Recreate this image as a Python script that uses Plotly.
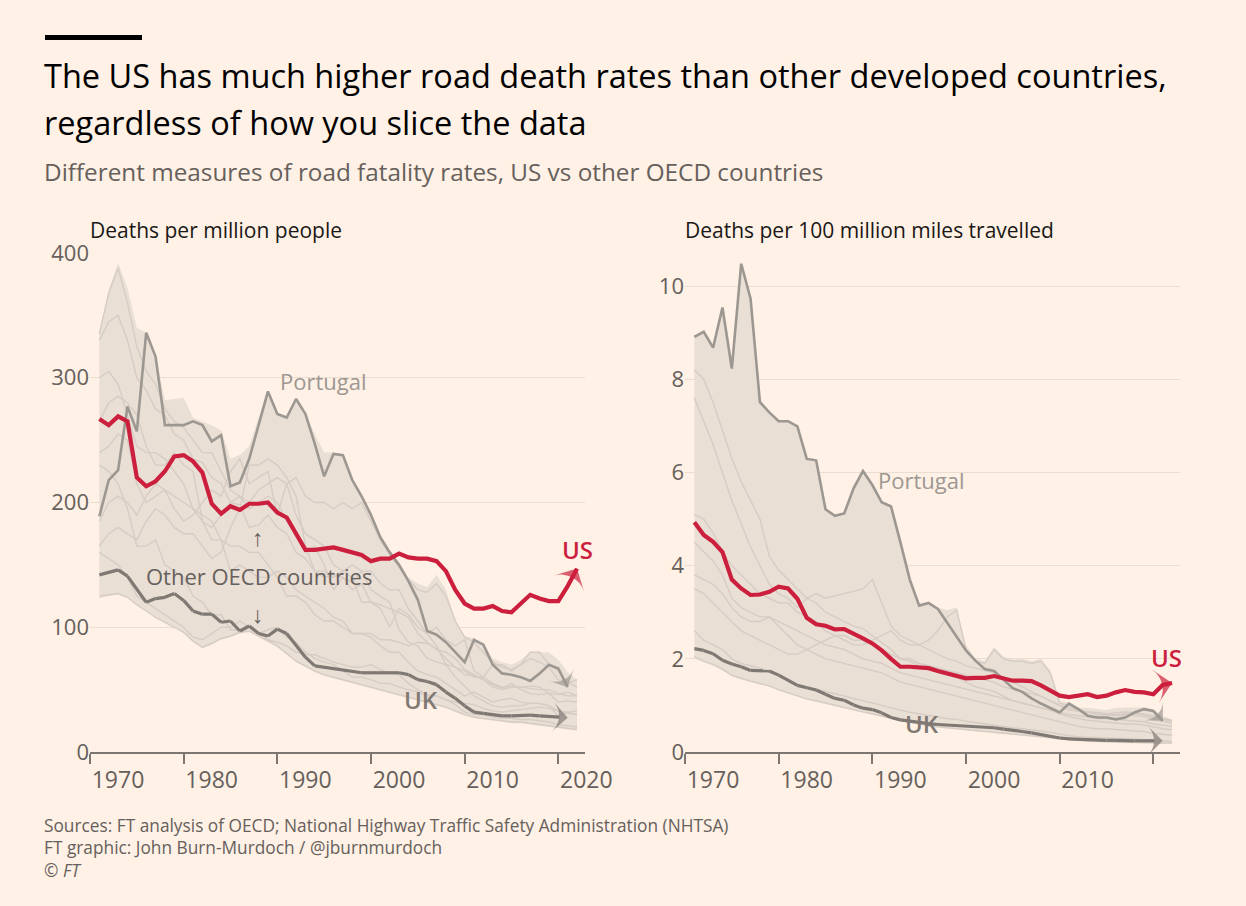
import plotly.graph_objects as go

# ---------------- data ----------------
years = list(range(1971, 2023))          # 52 positions (1971..2022)

# Left panel: deaths per million people
us_pop = [267, 262, 269, 265, 220, 213, 217, 225, 237, 238, 233, 224, 199, 191, 197, 194, 199, 199, 200, 192,
          188, 175, 162, 162, 163, 164, 162, 160, 158, 153, 155, 155, 159, 156, 155, 155, 153, 145, 130, 119,
          115, 115, 117, 113, 112, 119, 126, 123, 121, 121, 133, 147]
uk_pop = [142, 144, 146, 141, 131, 120, 123, 124, 127, 121.5, 113, 110.5, 110.5, 104, 105, 97, 101, 95, 93, 98.5,
          95, 86, 76, 69, 68, 67, 66, 64.5, 63.5, 63.5, 63.5, 63.5, 63.5, 62, 58, 56.5, 54, 48, 43, 37,
          32, 31, 30, 29, 29, 29.5, 29.5, 29, 28.5, 28, 27.5]
portugal_pop = [189, 218, 226, 277, 257, 336, 317, 262, 262, 262, 265, 262, 249, 254, 213, 216, 235, 262, 289, 271,
                268, 283, 271, 247, 221, 239, 238, 218, 205, 190, 172, 160, 150, 137, 122, 97, 94, 88, 80, 72,
                90, 86, 70, 63, 62, 60, 57, 63, 70, 67, 52]
band_hi_pop = [338, 370, 392, 372, 340, 336, 318, 282, 283, 284, 268, 265, 262, 258, 235, 238, 245, 268, 289, 272,
               270, 284, 272, 255, 240, 240, 239, 220, 207, 192, 175, 162, 152, 140, 135, 132, 142, 130, 106, 93,
               91, 87, 75, 72, 70, 74, 80, 80, 80, 74, 64, 58]
band_lo_pop = [123, 125, 126, 124, 118, 113, 107, 104, 100, 95, 88, 83, 86, 90, 92, 95, 96, 92, 88, 84,
               78, 72, 68, 64, 61, 59, 57, 55, 53, 51, 49, 47, 45, 43, 41, 39, 37, 35, 32, 29,
               27, 26, 25, 24, 23, 23, 22, 21, 20, 19, 18, 17]
others_pop = [
    [330, 345, 350, 330, 300, 290, 275, 270, 255, 250, 235, 232, 220, 215, 200, 198, 180, 182, 190, 180,
     175, 160, 155, 145, 140, 142, 140, 136, 145, 130, 125, 120, 98, 88, 85, 75, 72, 70, 68, 62,
     61, 58, 52, 50, 52, 52, 51, 50, 50, 47, 45, 45],
    [335, 368, 388, 360, 325, 305, 295, 275, 265, 260, 250, 240, 240, 225, 210, 205, 195, 200, 205, 200,
     185, 175, 160, 165, 150, 130, 140, 130, 135, 120, 118, 115, 112, 108, 95, 88, 82, 80, 75, 66,
     62, 58, 54, 51, 55, 50, 47, 46, 47, 40, 41, 40],
    [300, 305, 295, 270, 245, 240, 240, 235, 225, 215, 195, 190, 185, 170, 145, 150, 145, 140, 140, 145,
     140, 130, 125, 120, 115, 108, 105, 95, 95, 92, 85, 80, 80, 72, 65, 62, 60, 55, 50, 45,
     48, 44, 40, 42, 43, 40, 39, 39, 37, 33, 31, 30],
    [165, 175, 180, 175, 170, 185, 195, 190, 180, 175, 175, 165, 155, 160, 180, 195, 230, 230, 235, 230,
     220, 205, 165, 145, 145, 140, 145, 150, 145, 145, 135, 130, 130, 115, 105, 95, 85, 70, 60, 53,
     45, 41, 37, 36, 37, 37, 39, 39, 37, 29, 32, 33],
    [240, 245, 255, 250, 215, 200, 205, 210, 195, 185, 190, 200, 210, 205, 225, 235, 215, 220, 225, 190,
     215, 190, 175, 170, 165, 150, 145, 140, 120, 120, 115, 100, 115, 110, 100, 95, 100, 90, 85, 90,
     65, 60, 70, 70, 65, 70, 80, 80, 70, 65, 55, 58],
    [230, 225, 215, 195, 165, 165, 170, 150, 145, 140, 125, 120, 110, 110, 98, 98, 100, 95, 90, 88,
     85, 80, 78, 78, 75, 72, 70, 68, 68, 70, 66, 63, 62, 55, 50, 46, 45, 42, 40, 39,
     38, 35, 33, 32, 33, 34, 35, 36, 35, 33, 32, 30],
    [265, 280, 285, 280, 270, 245, 230, 230, 240, 230, 225, 185, 170, 170, 165, 165, 160, 160, 150, 140,
     125, 125, 120, 110, 105, 105, 100, 95, 95, 95, 90, 90, 88, 85, 88, 87, 83, 75, 68, 65,
     60, 60, 55, 52, 53, 52, 53, 52, 47, 46, 48, 45],
    [160, 155, 150, 140, 125, 120, 115, 110, 105, 100, 92, 90, 95, 100, 100, 105, 100, 95, 98, 100,
     92, 88, 80, 75, 72, 70, 65, 60, 60, 58, 55, 55, 52, 50, 48, 45, 45, 42, 38, 32,
     30, 30, 28, 27, 27, 26, 26, 25, 24, 22, 21, 20],
    [185, 200, 205, 200, 190, 205, 215, 210, 205, 200, 195, 185, 180, 190, 200, 205, 200, 210, 215, 220,
     215, 220, 205, 200, 200, 195, 200, 195, 200, 185, 170, 158, 148, 138, 130, 128, 135, 125, 105, 92,
     88, 80, 72, 68, 66, 70, 75, 72, 68, 58, 56, 52],
    [125, 126, 127, 124, 118, 113, 108, 104, 100, 96, 89, 84, 87, 91, 93, 96, 97, 93, 89, 85,
     79, 73, 69, 65, 62, 60, 58, 56, 54, 52, 50, 48, 46, 44, 42, 40, 38, 36, 33, 30,
     28, 27, 26, 25, 24, 24, 23, 22, 21, 20, 19, 18],
]

# Right panel: deaths per 100 million miles travelled
us_miles = [4.93, 4.66, 4.51, 4.29, 3.70, 3.51, 3.37, 3.38, 3.44, 3.55, 3.51, 3.29, 2.88, 2.74, 2.71, 2.63, 2.64,
            2.55, 2.44, 2.33, 2.18, 2.00, 1.83, 1.83, 1.81, 1.80, 1.74, 1.68, 1.63, 1.58, 1.59, 1.59, 1.63, 1.58,
            1.53, 1.53, 1.52, 1.43, 1.33, 1.21, 1.18, 1.21, 1.24, 1.18, 1.21, 1.28, 1.33, 1.29, 1.28, 1.24, 1.44, 1.48]
uk_miles = [2.22, 2.18, 2.11, 1.97, 1.89, 1.83, 1.75, 1.74, 1.74, 1.65, 1.53, 1.43, 1.38, 1.33, 1.24, 1.15, 1.11,
            1.01, 0.94, 0.91, 0.84, 0.74, 0.69, 0.66, 0.63, 0.61, 0.59, 0.58, 0.56, 0.55, 0.54, 0.53, 0.52, 0.49,
            0.47, 0.44, 0.41, 0.37, 0.33, 0.30, 0.28, 0.27, 0.26, 0.26, 0.25, 0.25, 0.24, 0.24, 0.24, 0.24, 0.24]
portugal_miles = [8.91, 9.02, 8.68, 9.54, 8.23, 10.48, 9.73, 7.51, 7.29, 7.10, 7.10, 6.99, 6.29, 6.26, 5.21, 5.07,
                  5.12, 5.66, 6.03, 5.73, 5.36, 5.27, 4.5, 3.7, 3.14, 3.2, 3.07, 2.77, 2.48, 2.18, 1.96, 1.78, 1.74,
                  1.55, 1.37, 1.29, 1.15, 1.04, 0.95, 0.85, 1.04, 0.92, 0.78, 0.74, 0.74, 0.70, 0.74, 0.85, 0.92,
                  0.88, 0.67]
band_hi_miles = [8.95, 9.05, 8.7, 9.55, 8.25, 10.5, 9.75, 7.55, 7.3, 7.12, 7.12, 7.0, 6.3, 6.28, 5.23, 5.1, 5.15,
                 5.7, 6.05, 5.75, 5.38, 5.3, 4.52, 3.72, 3.2, 3.22, 3.1, 3.05, 3.1, 2.3, 2.0, 1.95, 2.25, 2.05,
                 1.98, 2.0, 1.95, 2.0, 1.75, 1.1, 1.06, 0.95, 0.95, 0.92, 0.9, 0.95, 0.95, 0.96, 0.96, 0.92,
                 0.78, 0.7]
band_lo_miles = [2.0, 1.92, 1.85, 1.75, 1.62, 1.55, 1.5, 1.45, 1.4, 1.32, 1.25, 1.18, 1.12, 1.08, 1.03, 0.98,
                 0.93, 0.88, 0.84, 0.8, 0.75, 0.7, 0.66, 0.62, 0.58, 0.55, 0.52, 0.5, 0.48, 0.46, 0.44, 0.42,
                 0.4, 0.38, 0.36, 0.34, 0.32, 0.3, 0.28, 0.26, 0.24, 0.23, 0.22, 0.21, 0.2, 0.2, 0.19, 0.19,
                 0.18, 0.18, 0.17, 0.17]
others_miles = [
    [8.2, 8.0, 7.5, 6.9, 6.3, 5.8, 5.4, 5.0, 4.2, 3.9, 3.7, 3.5, 3.3, 3.2, 3.0, 2.9, 2.8, 2.7, 2.65, 2.5,
     2.35, 2.2, 2.0, 1.95, 1.85, 1.8, 1.7, 1.65, 1.6, 1.5, 1.4, 1.35, 1.3, 1.2, 1.1, 1.05, 1.0, 0.95, 0.9, 0.85,
     0.8, 0.78, 0.75, 0.72, 0.72, 0.7, 0.68, 0.66, 0.65, 0.6, 0.58, 0.55],
    [7.6, 7.1, 6.6, 6.0, 5.4, 4.9, 4.4, 4.0, 3.6, 3.4, 3.3, 3.1, 3.3, 3.4, 3.3, 3.35, 3.4, 3.45, 3.5, 3.7,
     3.2, 2.7, 2.5, 2.4, 2.3, 2.2, 2.1, 2.0, 1.95, 1.85, 1.8, 1.75, 1.7, 1.6, 1.5, 1.4, 1.3, 1.2, 1.1, 1.0,
     0.9, 0.88, 0.86, 0.84, 0.82, 0.84, 0.86, 0.85, 0.82, 0.78, 0.72, 0.68],
    [5.1, 5.0, 4.7, 4.3, 4.0, 3.8, 3.6, 3.4, 3.3, 3.2, 3.2, 3.0, 2.9, 2.8, 2.6, 2.5, 2.5, 2.4, 2.4, 2.3,
     2.2, 2.1, 2.0, 2.0, 1.9, 1.85, 1.8, 1.75, 1.7, 1.65, 1.6, 1.55, 1.5, 1.4, 1.35, 1.3, 1.25, 1.2, 1.1, 1.0,
     0.95, 0.9, 0.85, 0.85, 0.8, 0.8, 0.82, 0.78, 0.76, 0.7, 0.66, 0.62],
    [4.5, 4.3, 4.1, 3.8, 3.3, 3.1, 3.0, 2.9, 2.9, 2.8, 2.7, 2.6, 2.5, 2.4, 2.3, 2.25, 2.2, 2.1, 2.0, 1.95,
     1.9, 1.8, 1.7, 1.65, 1.6, 1.55, 1.5, 1.45, 1.4, 1.35, 1.3, 1.25, 1.2, 1.15, 1.1, 1.05, 1.0, 0.95, 0.9, 0.82,
     0.76, 0.72, 0.68, 0.66, 0.64, 0.62, 0.6, 0.6, 0.58, 0.54, 0.5, 0.48],
    [3.8, 3.7, 3.6, 3.4, 3.1, 2.9, 2.8, 2.8, 2.9, 2.7, 2.5, 2.3, 2.2, 2.1, 2.0, 1.95, 1.9, 1.85, 1.8, 1.75,
     1.7, 1.6, 1.5, 1.45, 1.4, 1.35, 1.3, 1.25, 1.2, 1.15, 1.1, 1.05, 1.0, 0.95, 0.9, 0.85, 0.8, 0.75, 0.7, 0.65,
     0.6, 0.55, 0.52, 0.5, 0.5, 0.48, 0.46, 0.45, 0.44, 0.4, 0.38, 0.36],
    [3.5, 3.4, 3.2, 3.0, 2.8, 2.6, 2.5, 2.4, 2.3, 2.2, 2.1, 2.1, 2.2, 2.3, 2.4, 2.5, 2.4, 2.3, 2.3, 2.4,
     2.5, 2.6, 2.4, 2.3, 2.3, 2.4, 2.6, 2.9, 3.05, 2.2, 1.95, 1.9, 2.2, 2.0, 1.95, 1.95, 1.9, 1.95, 1.7, 1.05,
     1.0, 0.9, 0.85, 0.8, 0.8, 0.78, 0.8, 0.82, 0.8, 0.74, 0.7, 0.66],
    [2.6, 2.4, 2.3, 2.2, 2.0, 1.9, 1.85, 1.8, 1.75, 1.65, 1.55, 1.45, 1.4, 1.35, 1.3, 1.25, 1.2, 1.15, 1.1, 1.05,
     1.0, 0.95, 0.9, 0.85, 0.82, 0.78, 0.75, 0.72, 0.7, 0.66, 0.63, 0.6, 0.58, 0.55, 0.52, 0.5, 0.48, 0.45, 0.42,
     0.38, 0.35, 0.33, 0.32, 0.3, 0.3, 0.29, 0.29, 0.28, 0.27, 0.25, 0.24, 0.22],
    [2.05, 1.95, 1.88, 1.78, 1.65, 1.58, 1.52, 1.47, 1.42, 1.34, 1.27, 1.2, 1.14, 1.1, 1.05, 1.0, 0.95, 0.9, 0.86,
     0.82, 0.77, 0.72, 0.68, 0.64, 0.6, 0.57, 0.54, 0.52, 0.5, 0.48, 0.46, 0.44, 0.42, 0.4, 0.38, 0.36, 0.34,
     0.32, 0.3, 0.28, 0.26, 0.25, 0.24, 0.23, 0.22, 0.22, 0.21, 0.21, 0.2, 0.2, 0.19, 0.19],
]

x_ticks = [1970, 1980, 1990, 2000, 2010, 2020]
x_ticktext_left = ["1970", "1980", "1990", "2000", "2010", "2020"]
x_ticktext_right = ["1970", "1980", "1990", "2000", "2010", ""]
y_ticks_left = [0, 100, 200, 300, 400]
y_ticks_right = [0, 2, 4, 6, 8, 10]

# ---------------- styles ----------------
BG = "#FFF1E5"
BAND = "#eadfd5"
OTHER = "#d6ccc4"
PORT = "#9d9792"
UKC = "#7f7873"
USC = "#cc1f3d"
GRID = "#eaddd1"
AXIS = "#7d7670"
TXT = "#66605c"
FONT = "Open Sans"

# plot area in pixels: left 90, right 1180, top 253, bottom 752
W, H = 1246, 906
L, R, T, B = 90, 66, 253, 154
PW, PH = W - L - R, H - T - B


def px(xp):
    return (xp - L) / PW


def py(yp):
    return (H - B - yp) / PH


fig = go.Figure()


def add_panel(xa, ya, lo, hi, others, port, uk, us):
    fig.add_trace(go.Scatter(x=years, y=lo, mode="lines", line=dict(width=0, color=BAND),
                             xaxis=xa, yaxis=ya, hoverinfo="skip", showlegend=False))
    fig.add_trace(go.Scatter(x=years, y=hi, mode="lines", line=dict(width=0, color=BAND),
                             fill="tonexty", fillcolor=BAND,
                             xaxis=xa, yaxis=ya, hoverinfo="skip", showlegend=False))
    for o in others:
        fig.add_trace(go.Scatter(x=years, y=o, mode="lines", line=dict(width=1.4, color=OTHER),
                                 xaxis=xa, yaxis=ya, hoverinfo="skip", showlegend=False))

    def arrow_line(xs, ys, color, width, msize):
        n = len(ys)
        fig.add_trace(go.Scatter(
            x=xs[:n], y=ys, mode="lines+markers",
            line=dict(width=width, color=color),
            marker=dict(symbol="arrow-wide", size=[0] * (n - 1) + [msize], angleref="previous",
                        color=color, line=dict(width=0)),
            xaxis=xa, yaxis=ya, hoverinfo="skip", showlegend=False))

    arrow_line(years, port, PORT, 2.6, 20)
    arrow_line(years, uk, UKC, 3.2, 21)
    arrow_line(years, us, USC, 4.2, 24)


add_panel("x", "y", band_lo_pop, band_hi_pop, others_pop, portugal_pop, uk_pop, us_pop)
add_panel("x2", "y2", band_lo_miles, band_hi_miles, others_miles, portugal_miles, uk_miles, us_miles)

xcommon = dict(range=[1970, 2022.85], tickvals=x_ticks, ticks="outside", ticklen=10, tickwidth=1.5,
               tickcolor=AXIS, showline=True, linecolor=AXIS, linewidth=1.8, showgrid=False,
               zeroline=False, tickfont=dict(family=FONT, size=23, color=TXT), ticklabelshift=28,
               ticklabelstandoff=-4, fixedrange=True)
ycommon = dict(showgrid=True, gridcolor=GRID, gridwidth=1.2, zeroline=False, showline=False, ticks="",
               tickfont=dict(family=FONT, size=22, color=TXT), fixedrange=True)

ann = []


def text(x, y, s, size, color, xref="paper", yref="paper", xanchor="left", yanchor="middle", weight=400):
    ann.append(dict(x=x, y=y, xref=xref, yref=yref, text=s, showarrow=False, xanchor=xanchor,
                    yanchor=yanchor, align="left",
                    font=dict(family=FONT, size=size, color=color, weight=weight)))


text(px(42), py(75), "The US has much higher road death rates than other developed countries,", 32.5, "#000000")
text(px(42), py(123), "regardless of how you slice the data", 32.5, "#000000")
text(px(42), py(171), "Different measures of road fatality rates, US vs other OECD countries", 24.3, TXT)
text(px(88), py(230), "Deaths per million people", 21, "#1a1817")
text(px(683), py(230), "Deaths per 100 million miles travelled", 21, "#1a1817")
text(px(42), py(848),
     "Sources: FT analysis of OECD; National Highway Traffic Safety Administration (NHTSA)"
     "<br>FT graphic: John Burn-Murdoch / @jburnmurdoch<br>© <i>FT</i>", 17.3, TXT)

# in-chart labels (data coordinates)
text(1994.9, 297, "Portugal", 22, PORT, "x", "y", "center")
text(2022.0, 162, "US", 24, USC, "x", "y", "center", weight=600)
text(2005.3, 42, "UK", 24, UKC, "x", "y", "center", weight=600)
text(1988.0, 141, "Other OECD countries", 22, TXT, "x", "y", "center")
text(1987.9, 172, "↑", 23, TXT, "x", "y", "center")
text(1987.9, 111, "↓", 23, TXT, "x", "y", "center")
text(1995.3, 5.83, "Portugal", 22, PORT, "x2", "y2", "center")
text(2021.4, 2.02, "US", 24, USC, "x2", "y2", "center", weight=600)
text(1995.3, 0.62, "UK", 24, UKC, "x2", "y2", "center", weight=600)

fig.update_layout(
    width=W, height=H,
    margin=dict(l=L, r=R, t=T, b=B),
    paper_bgcolor=BG, plot_bgcolor=BG,
    showlegend=False, hovermode=False,
    xaxis=dict(domain=[0, px(585)], ticktext=x_ticktext_left, anchor="y", **xcommon),
    xaxis2=dict(domain=[px(685), 1], ticktext=x_ticktext_right, anchor="y2", **xcommon),
    yaxis=dict(domain=[0, 1], range=[0, 400], tickvals=y_ticks_left, anchor="x", **ycommon),
    yaxis2=dict(domain=[0, 1], range=[0, 10.71], tickvals=y_ticks_right, anchor="x2", **ycommon),
    annotations=ann,
    shapes=[dict(type="rect", xref="paper", yref="paper", x0=px(45), x1=px(142), y0=py(40), y1=py(35),
                 fillcolor="#000000", line=dict(width=0))],
)

fig.write_html("out.html")
